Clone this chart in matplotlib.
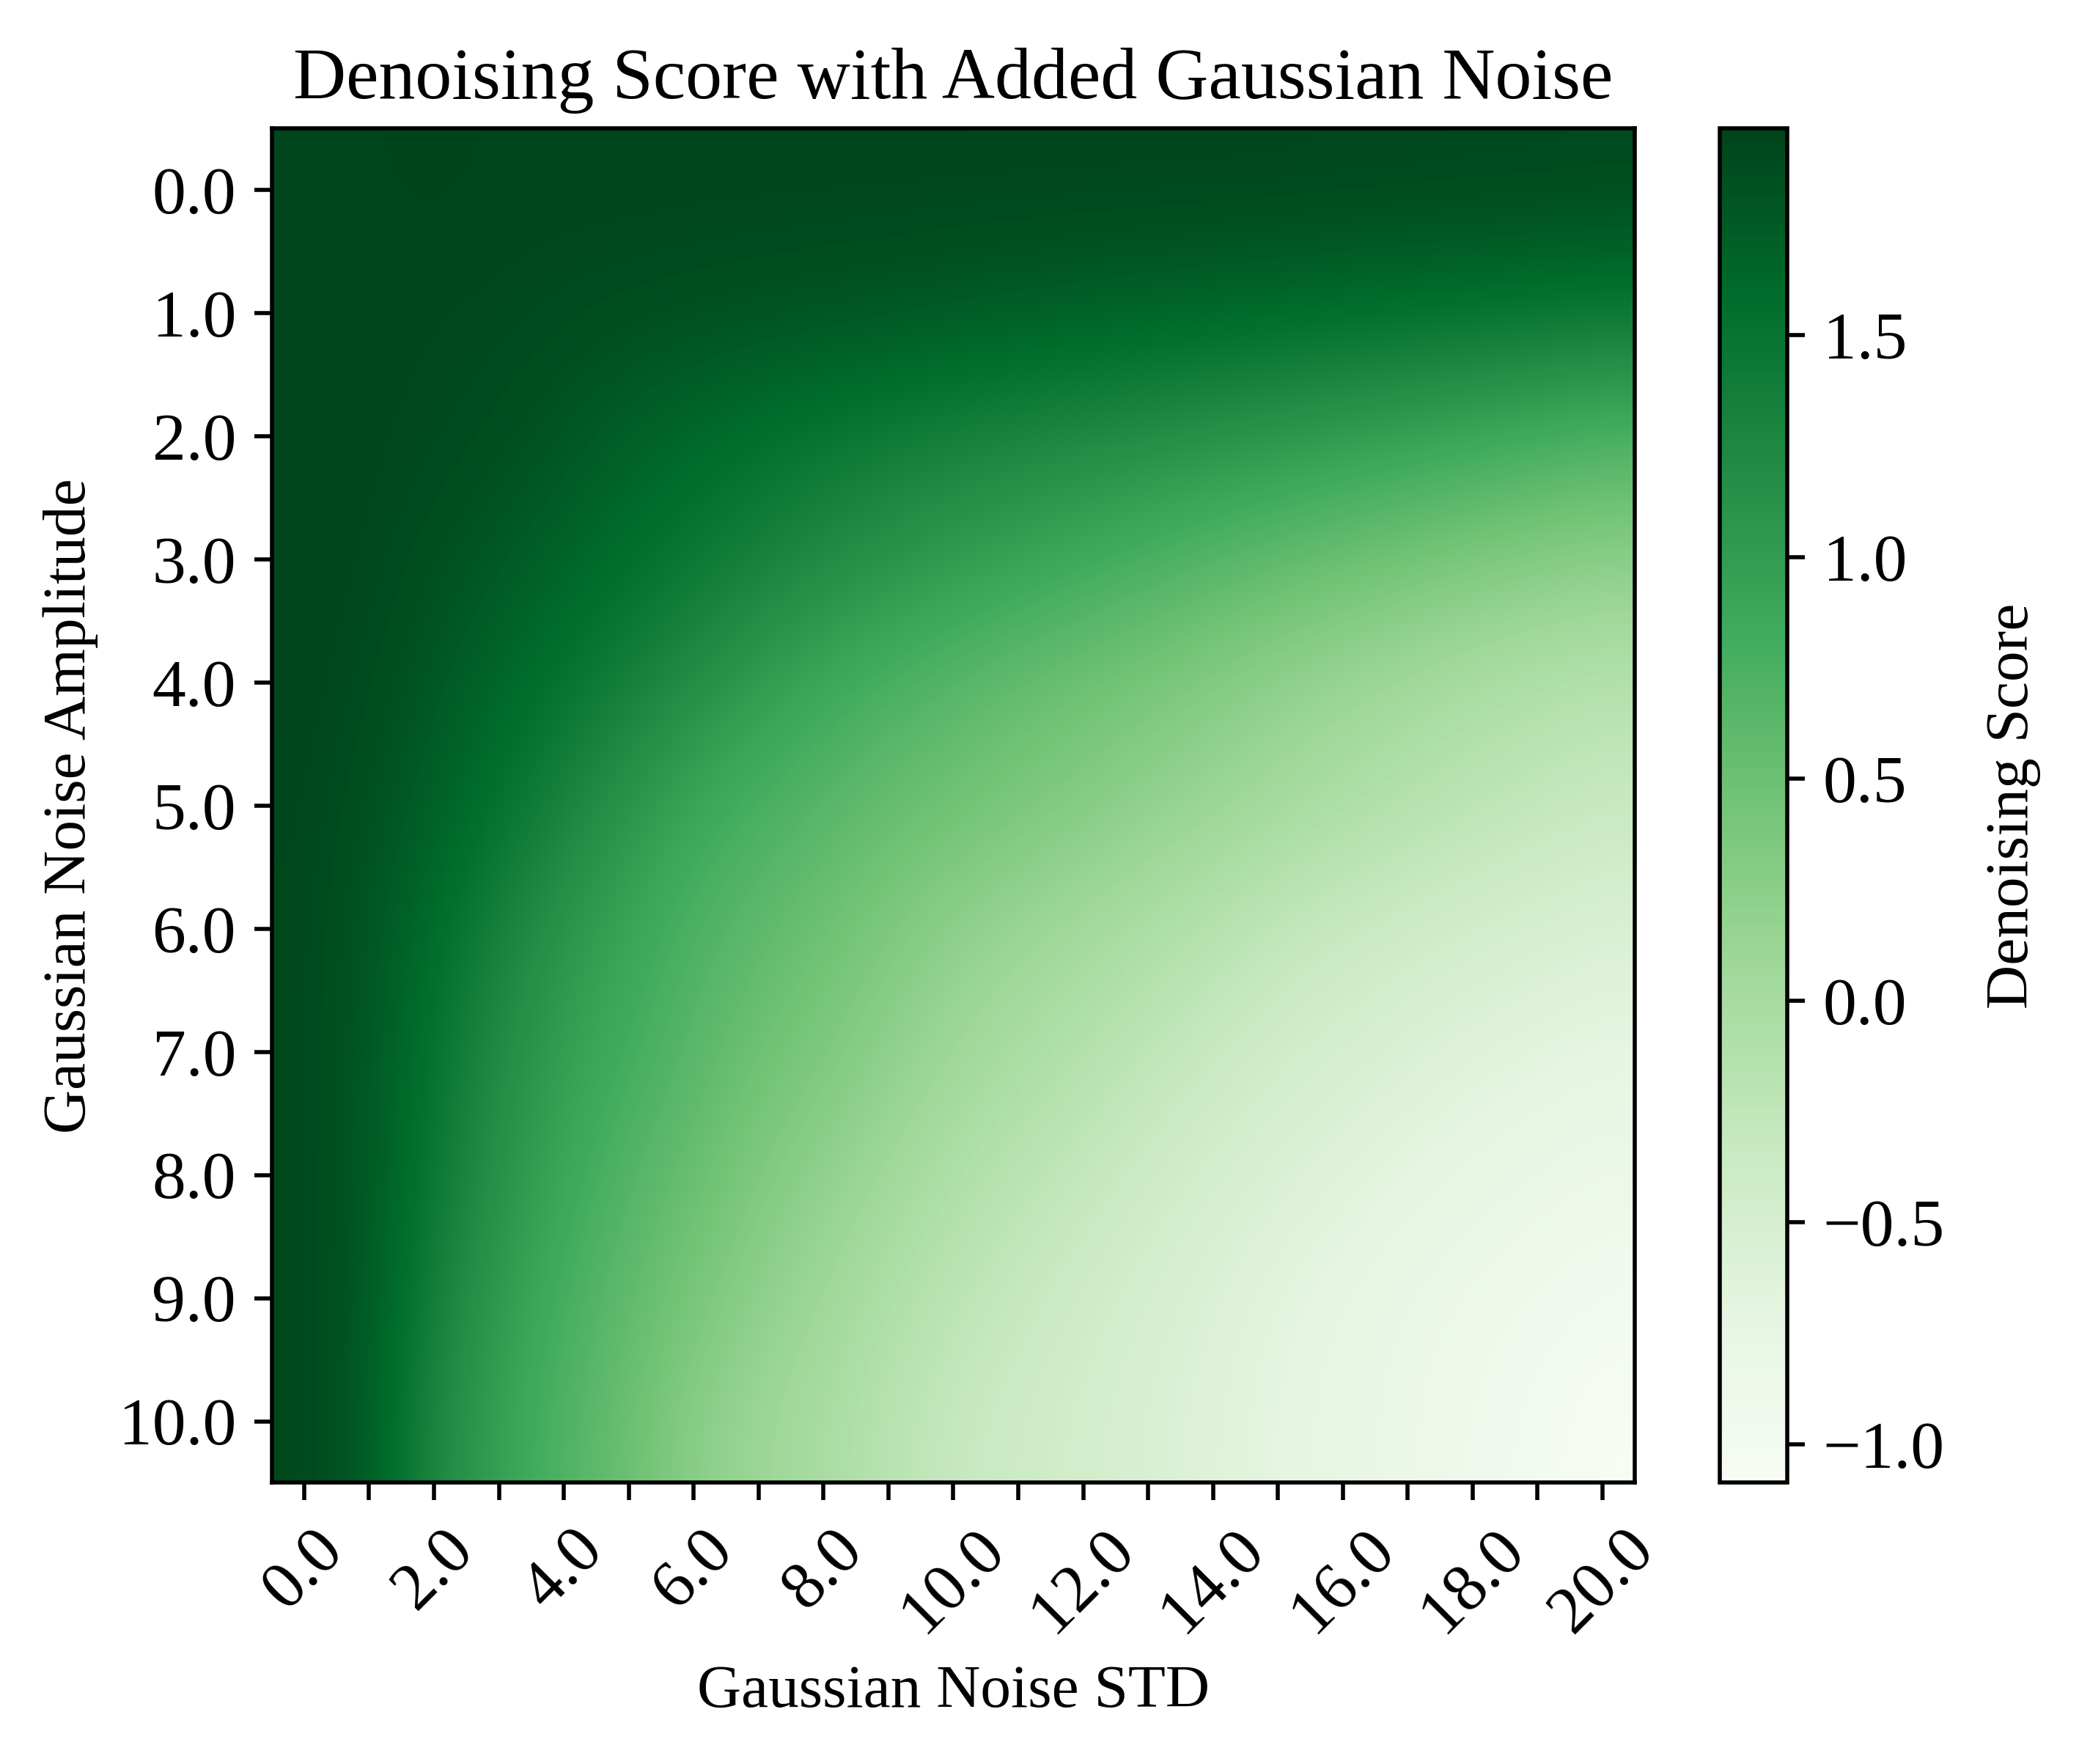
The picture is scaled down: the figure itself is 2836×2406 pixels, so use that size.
import numpy as np
import matplotlib
matplotlib.use('Agg')
import matplotlib.pyplot as plt

plt.rcParams['font.family'] = ['Liberation Serif', 'DejaVu Serif']
plt.rcParams['font.size'] = 13.2

# gaussian noise amplitude (rows) and std (columns)
amplitudes = np.arange(0, 11, 1.0)
stds = np.arange(0, 21, 1.0)

# denoising score, one list per amplitude row
row_0 = [1.95, 1.95, 1.966, 1.95, 1.95, 1.95, 1.95, 1.95, 1.95, 1.95, 1.95, 1.95, 1.95, 1.95, 1.95, 1.95, 1.94, 1.94, 1.93, 1.93, 1.92]
row_1 = [1.95, 1.94, 1.93, 1.92, 1.90, 1.88, 1.86, 1.84, 1.82, 1.80, 1.77, 1.74, 1.71, 1.68, 1.65, 1.62, 1.59, 1.56, 1.53, 1.50, 1.47]
row_2 = [1.95, 1.94, 1.92, 1.88, 1.80, 1.70, 1.62, 1.54, 1.47, 1.40, 1.33, 1.28, 1.23, 1.18, 1.12, 1.06, 1.00, 0.94, 0.87, 0.80, 0.73]
row_3 = [1.95, 1.93, 1.86, 1.77, 1.67, 1.56, 1.45, 1.34, 1.22, 1.12, 1.02, 0.93, 0.84, 0.75, 0.66, 0.58, 0.50, 0.43, 0.36, 0.30, 0.25]
row_4 = [1.95, 1.90, 1.78, 1.64, 1.50, 1.35, 1.18, 1.00, 0.86, 0.74, 0.64, 0.55, 0.47, 0.39, 0.30, 0.20, 0.12, 0.04, -0.04, -0.10, -0.15]
row_5 = [1.94, 1.85, 1.70, 1.52, 1.30, 1.08, 0.88, 0.75, 0.65, 0.55, 0.47, 0.38, 0.30, 0.20, 0.12, 0.03, -0.06, -0.14, -0.21, -0.27, -0.33]
row_6 = [1.93, 1.80, 1.58, 1.32, 1.08, 0.90, 0.72, 0.60, 0.48, 0.35, 0.22, 0.12, 0.03, -0.06, -0.16, -0.27, -0.34, -0.40, -0.46, -0.51, -0.56]
row_7 = [1.93, 1.78, 1.50, 1.20, 0.98, 0.80, 0.64, 0.48, 0.36, 0.22, 0.08, -0.03, -0.13, -0.24, -0.34, -0.43, -0.50, -0.57, -0.63, -0.68, -0.72]
row_8 = [1.93, 1.77, 1.45, 1.12, 0.88, 0.68, 0.52, 0.34, 0.20, 0.06, -0.08, -0.19, -0.29, -0.39, -0.48, -0.57, -0.64, -0.71, -0.77, -0.82, -0.87]
row_9 = [1.93, 1.76, 1.35, 1.02, 0.78, 0.58, 0.40, 0.22, 0.08, -0.08, -0.21, -0.32, -0.41, -0.50, -0.59, -0.68, -0.75, -0.82, -0.88, -0.93, -0.98]
row_10 = [1.93, 1.75, 1.25, 0.95, 0.70, 0.50, 0.25, 0.10, -0.03, -0.18, -0.32, -0.40, -0.47, -0.55, -0.63, -0.71, -0.78, -0.85, -0.93, -1.00, -1.087]

scores = np.array([row_0, row_1, row_2, row_3, row_4, row_5,
                   row_6, row_7, row_8, row_9, row_10])

fig = plt.figure(figsize=(2836 / 500, 2406 / 500), dpi=500)
ax = fig.add_axes([0.1307, 0.1594, 0.6557, 0.7677])
cax = fig.add_axes([0.8272, 0.1594, 0.0325, 0.7677])

im = ax.imshow(scores, cmap='Greens', aspect='auto', interpolation='bicubic')
cbar = fig.colorbar(im, cax=cax)
cbar.set_label('Denoising Score', fontsize=12, labelpad=8)

ax.set_xticks(np.arange(len(stds)))
ax.set_xticklabels([f'{s:.1f}' if i % 2 == 0 else '' for i, s in enumerate(stds)], rotation=45)
ax.set_yticks(np.arange(len(amplitudes)))
ax.set_yticklabels([f'{a:.1f}' for a in amplitudes])

ax.set_xlabel('Gaussian Noise STD', fontsize=12)
ax.set_ylabel('Gaussian Noise Amplitude', fontsize=12)
ax.set_title('Denoising Score with Added Gaussian Noise', fontsize=14.4)

fig.savefig('out.png', dpi=500)
